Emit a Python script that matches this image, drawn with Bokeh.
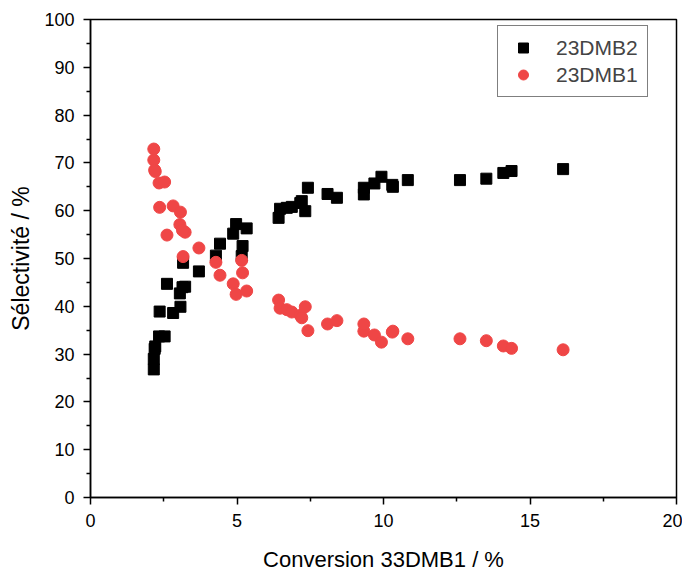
from bokeh.plotting import figure
from bokeh.models import Range1d, Legend, LegendItem, FixedTicker
from bokeh.embed import file_html
from bokeh.resources import INLINE

conversion = [2.16, 2.16, 2.19, 2.21, 2.34, 2.53, 2.36, 2.82, 3.07, 3.05, 3.23, 3.14, 2.61,
              3.16, 3.70, 4.28, 4.42, 4.87, 4.97, 5.33, 5.19, 5.16, 6.42, 6.47, 6.70,
              6.87, 7.16, 7.21, 7.33, 7.42, 8.09, 8.41, 9.33, 9.33, 9.69, 9.93, 10.32,
              10.30, 10.83, 12.61, 13.51, 14.09, 14.37, 16.13]
sel_23dmb2 = [26.8, 29.0, 31.1, 31.6, 33.7, 33.7, 38.9, 38.6, 39.9, 42.7, 44.1, 44.0, 44.7,
              49.1, 47.3, 50.6, 53.1, 55.2, 57.2, 56.3, 52.6, 50.5, 58.5, 60.4, 60.6,
              60.8, 61.6, 62.0, 59.9, 64.8, 63.5, 62.7, 64.8, 63.4, 65.7, 67.1, 65.0,
              65.4, 66.4, 66.4, 66.7, 67.9, 68.3, 68.7]
sel_23dmb1 = [72.9, 70.6, 68.5, 68.2, 65.8, 66.0, 60.7, 61.0, 59.7, 57.1, 55.5, 55.9, 54.9,
              50.4, 52.2, 49.2, 46.5, 44.7, 42.5, 43.2, 47.0, 49.6, 41.3, 39.6, 39.3,
              38.8, 38.1, 37.6, 39.9, 34.9, 36.3, 37.0, 34.8, 36.3, 34.0, 32.5, 34.8,
              34.6, 33.2, 33.2, 32.8, 31.7, 31.2, 30.9]
x_ticks = [0, 5, 10, 15, 20]
y_ticks = [0, 10, 20, 30, 40, 50, 60, 70, 80, 90, 100]

FONT = "Liberation Sans"

p = figure(frame_width=586, frame_height=478, output_backend="svg", toolbar_location=None,
           x_range=Range1d(0, 20), y_range=Range1d(0, 100),
           min_border_left=90, min_border_top=19, min_border_right=6, min_border_bottom=10)
p.grid.visible = False
p.outline_line_color = "black"
p.outline_line_width = 1.5

red = "#EF4646"
r2 = p.scatter(conversion, sel_23dmb2, marker="square", size=11, color="black")
r1 = p.scatter(conversion, sel_23dmb1, marker="circle", size=12, color=red)

for ax in (p.xaxis[0], p.yaxis[0]):
    ax.axis_line_width = 1.5
    ax.major_tick_line_width = 1.5
    ax.minor_tick_line_width = 1.5
    ax.major_tick_out = 7
    ax.major_tick_in = 0
    ax.minor_tick_out = 4
    ax.minor_tick_in = 0
    ax.major_label_text_font = FONT
    ax.major_label_text_font_size = "18px"
    ax.major_label_text_color = "black"
    ax.major_label_standoff = 9
    ax.axis_label_text_font = FONT
    ax.axis_label_text_font_style = "normal"
    ax.axis_label_text_color = "black"

p.xaxis.axis_label_text_font_size = "22px"
p.yaxis.axis_label_text_font_size = "23px"
p.xaxis.ticker = FixedTicker(ticks=x_ticks, minor_ticks=[2.5, 7.5, 12.5, 17.5])
p.yaxis.ticker = FixedTicker(ticks=y_ticks, minor_ticks=[5, 15, 25, 35, 45, 55, 65, 75, 85, 95])
p.xaxis.axis_label = "Conversion 33DMB1 / %"
p.yaxis.axis_label = "Sélectivité / %"
p.xaxis.axis_label_standoff = 17
p.yaxis.axis_label_standoff = 7

legend = Legend(items=[LegendItem(label="23DMB2", renderers=[r2]),
                       LegendItem(label="23DMB1", renderers=[r1])],
                location=(407, 400))
legend.label_text_font = FONT
legend.label_text_font_size = "21px"
legend.border_line_color = "black"
legend.border_line_width = 1
legend.margin = 0
legend.padding = 9
legend.spacing = 2
legend.glyph_width = 32
legend.glyph_height = 25
legend.label_height = 25
legend.label_standoff = 17
p.add_layout(legend)

open("out.html", "w").write(file_html(p, INLINE))
